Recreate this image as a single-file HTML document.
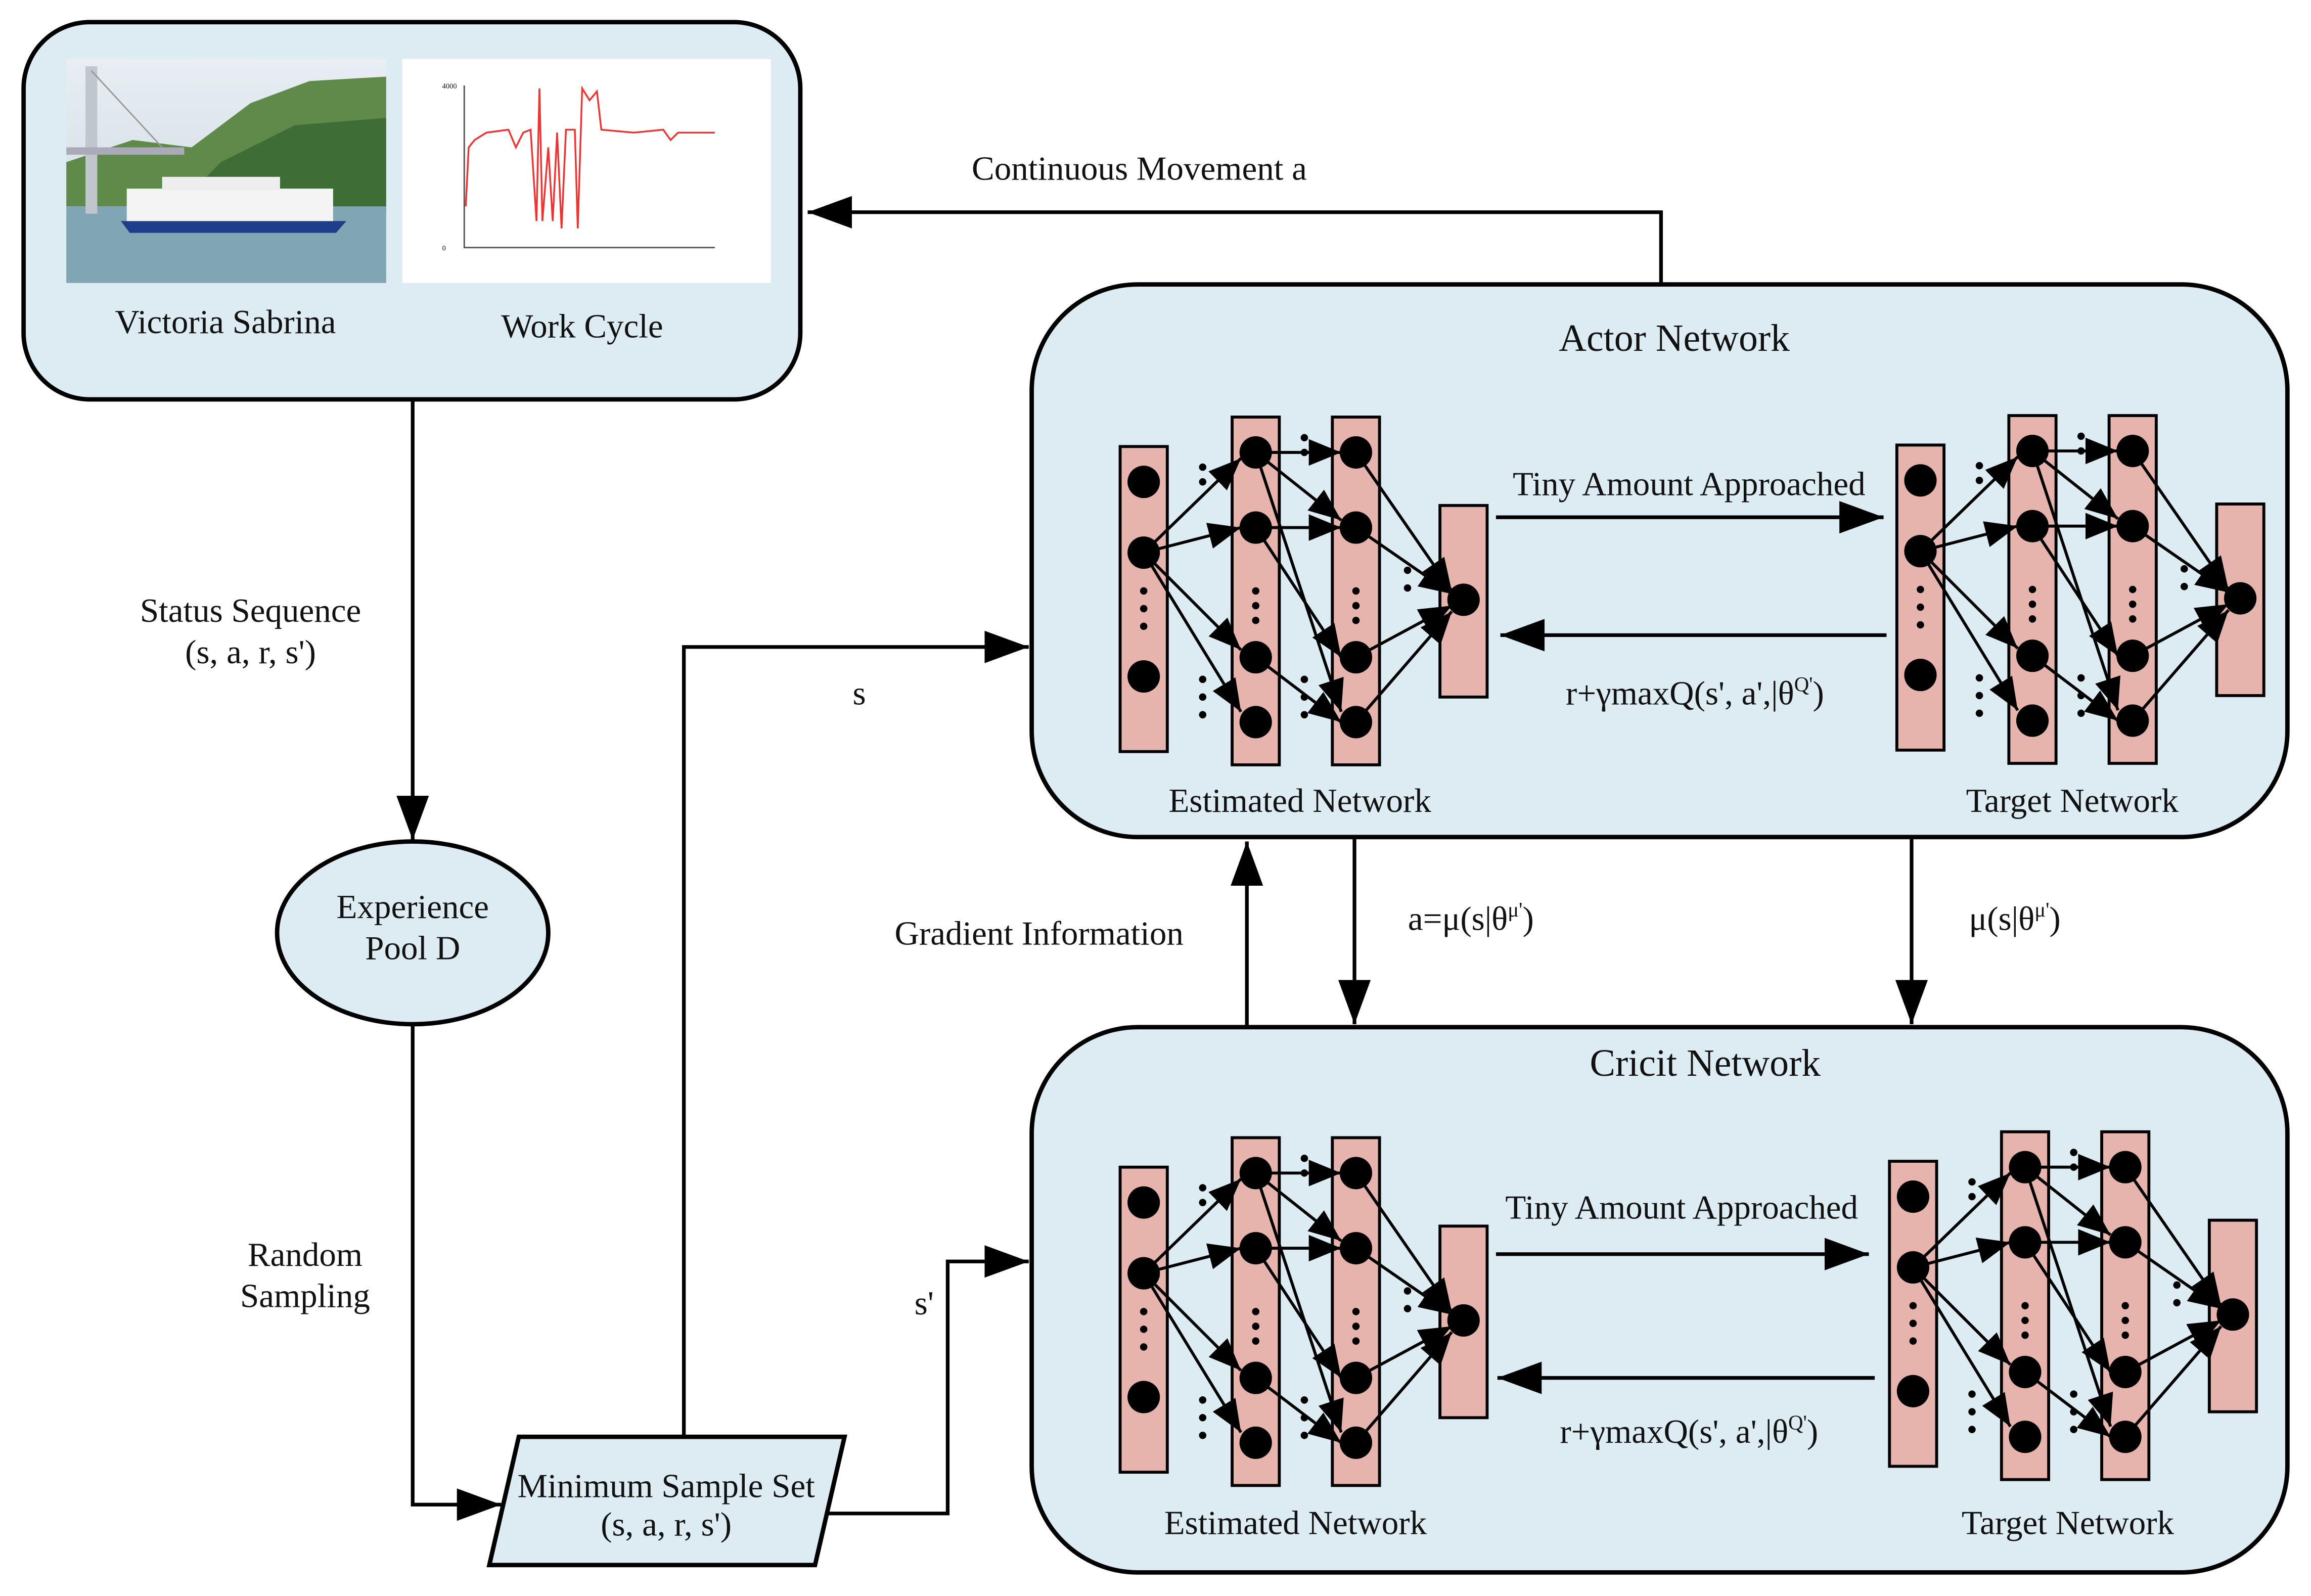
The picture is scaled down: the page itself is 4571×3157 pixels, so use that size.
<!DOCTYPE html>
<html><head><meta charset="utf-8">
<style>
html,body{margin:0;padding:0;background:#fff;}
svg{display:block;}
text{font-family:"Liberation Serif",serif;fill:#111;}
</style></head>
<body>
<svg width="4571" height="3157" viewBox="0 0 1568 1083" preserveAspectRatio="none" xmlns="http://www.w3.org/2000/svg">
<defs>
<marker id="big" markerWidth="30" markerHeight="22" refX="30" refY="11" orient="auto" markerUnits="userSpaceOnUse" viewBox="0 0 30 22">
<path d="M0,0 L30,11 L0,22 z" fill="#000"/></marker>
<marker id="sm" markerWidth="22" markerHeight="18" refX="22" refY="9" orient="auto" markerUnits="userSpaceOnUse" viewBox="0 0 22 18">
<path d="M0,0 L22,9 L0,18 z" fill="#000"/></marker>
<linearGradient id="sky" x1="0" y1="0" x2="0" y2="1">
<stop offset="0" stop-color="#e8eef2"/><stop offset="1" stop-color="#c9d8df"/></linearGradient>
<g id="net">
<rect x="0" y="20" width="32" height="207" fill="#e7b3ad" stroke="#000" stroke-width="2"/>
<rect x="76" y="0" width="32" height="236" fill="#e7b3ad" stroke="#000" stroke-width="2"/>
<rect x="144" y="0" width="32" height="236" fill="#e7b3ad" stroke="#000" stroke-width="2"/>
<rect x="217" y="60" width="32" height="130" fill="#e7b3ad" stroke="#000" stroke-width="2"/>
<g stroke="#000" stroke-width="2" marker-end="url(#sm)">
<line x1="16" y1="92" x2="82" y2="28"/><line x1="16" y1="92" x2="82" y2="75"/>
<line x1="16" y1="92" x2="82" y2="158"/><line x1="16" y1="92" x2="82" y2="200"/>
<line x1="92" y1="24" x2="150" y2="24"/><line x1="92" y1="75" x2="150" y2="75"/>
<line x1="92" y1="24" x2="150" y2="200"/><line x1="92" y1="75" x2="150" y2="163"/>
<line x1="92" y1="163" x2="150" y2="207"/><line x1="92" y1="24" x2="150" y2="70"/>
<line x1="160" y1="24" x2="225" y2="118"/><line x1="160" y1="75" x2="225" y2="120"/>
<line x1="160" y1="163" x2="225" y2="128"/><line x1="160" y1="207" x2="225" y2="132"/>
</g>
<g fill="#000">
<circle cx="16" cy="44" r="11"/><circle cx="16" cy="92" r="11"/><circle cx="16" cy="176" r="11"/>
<circle cx="16" cy="118" r="2.5"/><circle cx="16" cy="130" r="2.5"/><circle cx="16" cy="142" r="2.5"/>
<circle cx="92" cy="24" r="11"/><circle cx="92" cy="75" r="11"/><circle cx="92" cy="163" r="11"/><circle cx="92" cy="207" r="11"/>
<circle cx="92" cy="118" r="2.5"/><circle cx="92" cy="128" r="2.5"/><circle cx="92" cy="138" r="2.5"/>
<circle cx="160" cy="24" r="11"/><circle cx="160" cy="75" r="11"/><circle cx="160" cy="163" r="11"/><circle cx="160" cy="207" r="11"/>
<circle cx="160" cy="118" r="2.5"/><circle cx="160" cy="128" r="2.5"/><circle cx="160" cy="138" r="2.5"/>
<circle cx="233" cy="124" r="11"/>
<circle cx="56" cy="34" r="2.5"/><circle cx="56" cy="44" r="2.5"/><circle cx="56" cy="178" r="2.5"/><circle cx="56" cy="190" r="2.5"/><circle cx="56" cy="202" r="2.5"/>
<circle cx="125" cy="14" r="2.5"/><circle cx="125" cy="24" r="2.5"/><circle cx="125" cy="178" r="2.5"/><circle cx="125" cy="190" r="2.5"/><circle cx="125" cy="202" r="2.5"/>
<circle cx="195" cy="104" r="2.5"/><circle cx="195" cy="116" r="2.5"/>
</g>
</g>
</defs>

<rect x="16" y="15" width="527" height="256" rx="45" fill="#dcecf2" stroke="#000" stroke-width="3"/>
<rect x="45" y="40" width="217" height="152" fill="url(#sky)"/>
<path d="M45,110 L90,95 L130,100 L170,70 L210,55 L262,52 L262,140 L45,140 z" fill="#5f8a4a"/>
<path d="M120,140 L150,110 L200,85 L262,80 L262,145 L120,145 z" fill="#3f6d36"/>
<rect x="45" y="140" width="217" height="52" fill="#7fa6b2"/>
<rect x="58" y="45" width="8" height="100" fill="#bfc7cc"/>
<line x1="62" y1="48" x2="110" y2="100" stroke="#999" stroke-width="1"/>
<rect x="45" y="100" width="80" height="5" fill="#aab"/>
<path d="M82,150 L235,150 L228,158 L88,158 z" fill="#1d3e8a"/>
<rect x="86" y="128" width="140" height="22" fill="#f4f4f4"/>
<rect x="110" y="120" width="80" height="9" fill="#eee"/>
<rect x="273" y="40" width="250" height="152" fill="#fff"/>
<path d="M315,58 L315,168 L485,168" fill="none" stroke="#555" stroke-width="1"/>
<polyline points="316,140 318,100 322,95 330,90 345,88 350,100 355,90 360,88 364,150 366,60 368,150 372,100 375,150 378,90 381,155 384,88 390,88 392,155 395,60 400,68 405,62 408,88 430,90 450,88 455,95 460,90 485,90" fill="none" stroke="#e33" stroke-width="1.2"/>
<g fill="#555" font-size="5"><text x="300" y="60">4000</text><text x="300" y="170">0</text></g>
<text x="153" y="226" font-size="23" text-anchor="middle">Victoria Sabrina</text>
<text x="395" y="229" font-size="23" text-anchor="middle">Work Cycle</text>

<polyline points="1127,192 1127,144 548,144" fill="none" stroke="#000" stroke-width="2.5" marker-end="url(#big)"/>
<text x="773" y="122" font-size="23" text-anchor="middle">Continuous Movement a</text>

<rect x="700" y="193" width="852" height="375" rx="72" fill="#dcecf2" stroke="#000" stroke-width="3"/>
<text x="1136" y="238" font-size="26" text-anchor="middle">Actor Network</text>
<use href="#net" x="760" y="283"/>
<use href="#net" x="1287" y="282"/>
<line x1="1015" y1="351" x2="1278" y2="351" stroke="#000" stroke-width="2.5" marker-end="url(#big)"/>
<line x1="1280" y1="431" x2="1018" y2="431" stroke="#000" stroke-width="2.5" marker-end="url(#big)"/>
<text x="1146" y="336" font-size="23" text-anchor="middle">Tiny Amount Approached</text>
<text x="1150" y="478" font-size="23" text-anchor="middle">r+γmaxQ(s', a',|θ<tspan font-size="14" dy="-9">Q'</tspan><tspan dy="9">)</tspan></text>
<text x="882" y="551" font-size="23" text-anchor="middle">Estimated Network</text>
<text x="1406" y="551" font-size="23" text-anchor="middle">Target Network</text>

<rect x="700" y="697" width="852" height="370" rx="72" fill="#dcecf2" stroke="#000" stroke-width="3"/>
<text x="1157" y="730" font-size="26" text-anchor="middle">Cricit Network</text>
<use href="#net" x="760" y="772"/>
<use href="#net" x="1282" y="768"/>
<line x1="1015" y1="851" x2="1268" y2="851" stroke="#000" stroke-width="2.5" marker-end="url(#big)"/>
<line x1="1272" y1="935" x2="1016" y2="935" stroke="#000" stroke-width="2.5" marker-end="url(#big)"/>
<text x="1141" y="827" font-size="23" text-anchor="middle">Tiny Amount Approached</text>
<text x="1146" y="979" font-size="23" text-anchor="middle">r+γmaxQ(s', a',|θ<tspan font-size="14" dy="-9">Q'</tspan><tspan dy="9">)</tspan></text>
<text x="879" y="1041" font-size="23" text-anchor="middle">Estimated Network</text>
<text x="1403" y="1041" font-size="23" text-anchor="middle">Target Network</text>

<line x1="846" y1="697" x2="846" y2="571" stroke="#000" stroke-width="2.5" marker-end="url(#big)"/>
<line x1="919" y1="568" x2="919" y2="695" stroke="#000" stroke-width="2.5" marker-end="url(#big)"/>
<line x1="1297" y1="568" x2="1297" y2="695" stroke="#000" stroke-width="2.5" marker-end="url(#big)"/>
<text x="705" y="641" font-size="23" text-anchor="middle">Gradient Information</text>
<text x="998" y="631" font-size="23" text-anchor="middle">a=μ(s|θ<tspan font-size="14" dy="-9">μ'</tspan><tspan dy="9">)</tspan></text>
<text x="1367" y="631" font-size="23" text-anchor="middle">μ(s|θ<tspan font-size="14" dy="-9">μ'</tspan><tspan dy="9">)</tspan></text>

<line x1="280" y1="271" x2="280" y2="570" stroke="#000" stroke-width="2.5" marker-end="url(#big)"/>
<text x="170" y="422" font-size="23" text-anchor="middle">Status Sequence</text>
<text x="170" y="450" font-size="23" text-anchor="middle">(s, a, r, s')</text>
<ellipse cx="280" cy="633" rx="92" ry="62" fill="#dcecf2" stroke="#000" stroke-width="3"/>
<text x="280" y="623" font-size="23" text-anchor="middle">Experience</text>
<text x="280" y="651" font-size="23" text-anchor="middle">Pool D</text>
<polyline points="280,695 280,1021 340,1021" fill="none" stroke="#000" stroke-width="2.5" marker-end="url(#big)"/>
<text x="207" y="859" font-size="23" text-anchor="middle">Random</text>
<text x="207" y="887" font-size="23" text-anchor="middle">Sampling</text>
<polygon points="352,975 573,975 553,1062 332,1062" fill="#dcecf2" stroke="#000" stroke-width="3"/>
<text x="452" y="1016" font-size="23" text-anchor="middle">Minimum Sample Set</text>
<text x="452" y="1042" font-size="23" text-anchor="middle">(s, a, r, s')</text>
<polyline points="464,975 464,439 698,439" fill="none" stroke="#000" stroke-width="2.5" marker-end="url(#big)"/>
<text x="583" y="478" font-size="23" text-anchor="middle">s</text>
<polyline points="560,1027 643,1027 643,856 698,856" fill="none" stroke="#000" stroke-width="2.5" marker-end="url(#big)"/>
<text x="627" y="892" font-size="23" text-anchor="middle">s'</text>
</svg>
</body></html>
